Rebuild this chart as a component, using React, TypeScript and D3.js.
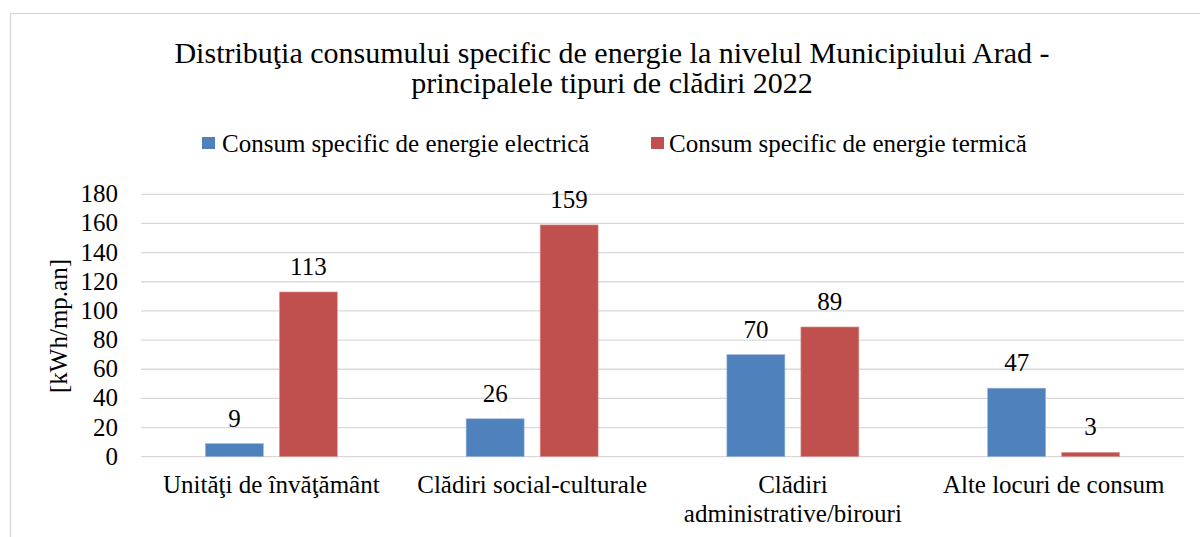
import * as d3 from 'd3';
import React from 'react';

const categories = [
  ['Unităţi de învăţământ'],
  ['Clădiri social-culturale'],
  ['Clădiri', 'administrative/birouri'],
  ['Alte locuri de consum'],
];
const seriesNames = [
  'Consum specific de energie electrică',
  'Consum specific de energie termică',
];
const electrica = [9, 26, 70, 47];
const termica = [113, 159, 89, 3];
const yTicks = [0, 20, 40, 60, 80, 100, 120, 140, 160, 180];
const colors = ['#4F81BD', '#C0504D'];

const W = 1200;
const H = 537;
const FONT = '"Liberation Serif", "Times New Roman", serif';

export default function App() {
  const left = 141;
  const right = 1184;
  const top = 194.3;
  const bottom = 456.7;

  const x0 = d3
    .scaleBand<number>()
    .domain(categories.map((c, i) => i))
    .range([left, right])
    .padding(0);
  const bw = x0.bandwidth();
  const x1 = d3
    .scaleBand<number>()
    .domain([0, 1])
    .range([(bw - 132) / 2, (bw + 132) / 2])
    .paddingInner(0.2162)
    .paddingOuter(0);
  const y = d3.scaleLinear().domain([0, 180]).range([bottom, top]);

  const values = [electrica, termica];

  return (
    <svg
      width={W}
      height={H}
      style={{ position: 'absolute', left: 0, top: 0, background: '#fff' }}
      fontFamily={FONT}
    >
      <rect x={10.5} y={13.5} width={1220} height={540} fill="#fff" stroke="#D9D9D9" strokeWidth={1.3} />

      <text x={612} y={63} textAnchor="middle" fontSize={30} fill="#000">
        Distribuţia consumului specific de energie la nivelul Municipiului Arad -
      </text>
      <text x={612} y={93} textAnchor="middle" fontSize={30} fill="#000">
        principalele tipuri de clădiri 2022
      </text>

      {/* legend */}
      {[
        { sx: 202, tx: 222 },
        { sx: 651, tx: 669 },
      ].map((p, i) => (
        <g key={i}>
          <rect x={p.sx} y={137} width={13} height={12} fill={colors[i]} />
          <text x={p.tx} y={152} fontSize={25} fill="#000">
            {seriesNames[i]}
          </text>
        </g>
      ))}

      {/* gridlines + ticks */}
      {yTicks.map((t) => (
        <g key={t}>
          <line x1={left} x2={right} y1={y(t)} y2={y(t)} stroke="#D9D9D9" strokeWidth={1.3} />
          <text x={118} y={y(t) + 8} textAnchor="end" fontSize={25} fill="#000">
            {t}
          </text>
        </g>
      ))}

      <text
        transform={`translate(67,326) rotate(-90)`}
        textAnchor="middle"
        fontSize={25}
        fill="#000"
      >
        [kWh/mp.an]
      </text>

      {/* bars */}
      {categories.map((c, i) => (
        <g key={i} transform={`translate(${x0(i)},0)`}>
          {values.map((vals, s) => (
            <g key={s}>
              <rect
                x={x1(s)}
                y={y(vals[i])}
                width={x1.bandwidth()}
                height={bottom - y(vals[i])}
                fill={colors[s]}
                stroke={s === 0 ? '#9DB8DA' : '#DC9F9D'}
                strokeWidth={0.6}
              />
              <text
                x={(x1(s) as number) + x1.bandwidth() / 2}
                y={y(vals[i]) - 17}
                textAnchor="middle"
                fontSize={25}
                fill="#000"
              >
                {vals[i]}
              </text>
            </g>
          ))}
          {c.map((line, k) => (
            <text key={k} x={bw / 2} y={493 + k * 29} textAnchor="middle" fontSize={25} fill="#000">
              {line}
            </text>
          ))}
        </g>
      ))}
    </svg>
  );
}
